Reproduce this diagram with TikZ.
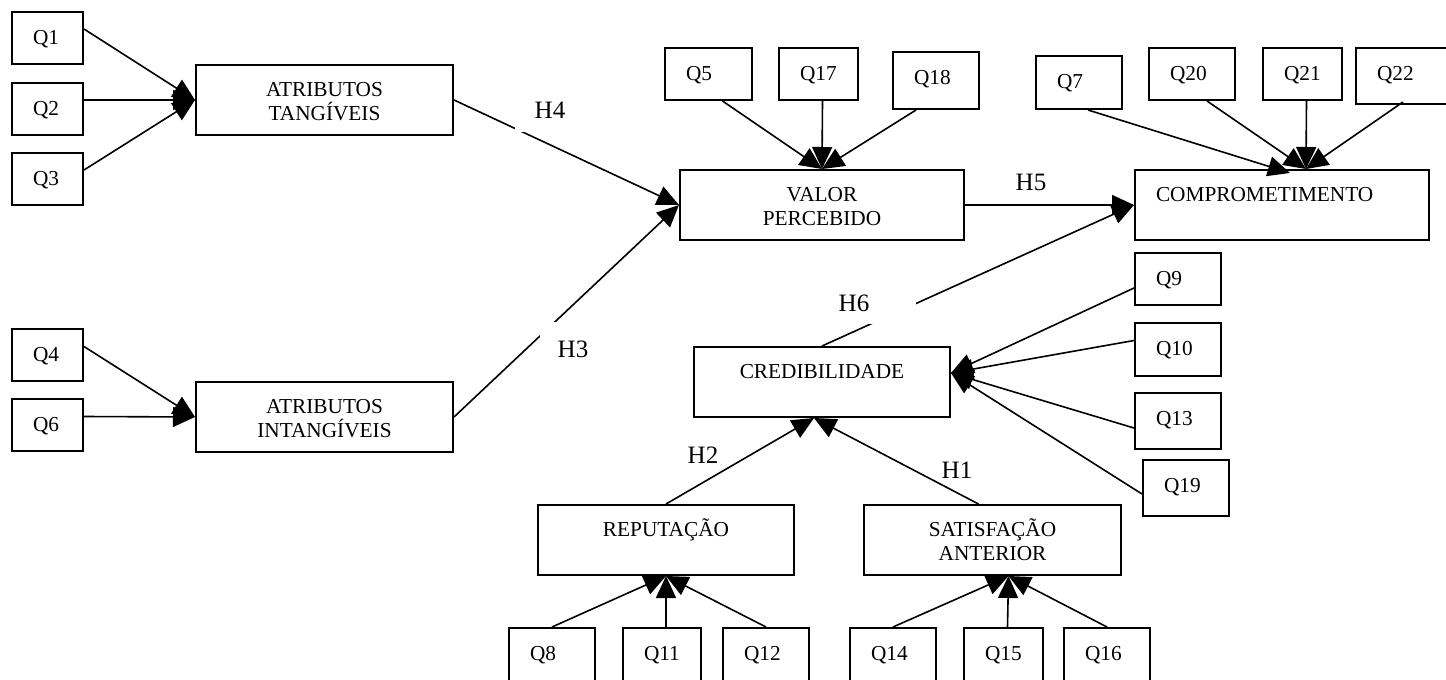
\documentclass[tikz,border=0pt]{standalone}
\usepackage{fontspec}
\setmainfont{Liberation Serif}
\usetikzlibrary{arrows.meta}

\begin{document}
\begin{tikzpicture}[
  x=0.5pt, y=-0.5pt,
  every node/.style={font=\fontsize{10.65}{12}\selectfont},
  qbox/.style={draw, line width=1pt, anchor=north west, align=left,
    inner xsep=10.5pt, inner ysep=5pt, text height=11pt, text depth=5pt, text width=#1},
  qbox/.default=22pt,
  bigbox/.style={draw, line width=1pt, anchor=north west, align=center,
    inner xsep=0pt, inner ysep=6pt, text height=9.5pt, text depth=13.5pt, text width=#1},
  hlabel/.style={fill=white, font=\fontsize{12.5}{14}\selectfont, inner sep=1pt},
  link/.style={line width=0.8pt, -{Triangle[length=11pt, width=10pt]}}
]
\useasboundingbox (0,0) rectangle (1446,680);

\node [qbox=14.5pt] (q1) at (11,11) {Q1};
\node [qbox=14.5pt] (q2) at (11,82) {Q2};
\node [qbox=14.5pt] (q3) at (11,152) {Q3};
\node [qbox=14.5pt] (q4) at (11,328) {Q4};
\node [qbox=14.5pt] (q6) at (11,398) {Q6};
\node [bigbox=128.5pt] (atang) at (195,64) {ATRIBUTOS\\TANGÍVEIS};
\node [bigbox=128.5pt] (aintang) at (195,381) {ATRIBUTOS\\INTANGÍVEIS};

\node [qbox=22.5pt] (q5) at (664,47) {Q5};
\node [qbox=18.5pt] (q17) at (778,47) {Q17};
\node [qbox, text depth=7.5pt] (q18) at (892,51) {Q18};
\node [bigbox=142pt] (valor) at (679,169) {VALOR\\PERCEBIDO};

\node [qbox, text depth=5.5pt] (q7) at (1035,55) {Q7};
\node [qbox] (q20) at (1148,47) {Q20};
\node [qbox=18.5pt] (q21) at (1262,47) {Q21};
\node [qbox=39pt, text depth=7pt] (q22) at (1355,47) {Q22};
\node [bigbox=126pt, align=left, inner xsep=10.5pt] (comp) at (1134,169) {COMPROMETIMENTO};

\node [bigbox=128pt] (cred) at (693,346) {CREDIBILIDADE};
\node [qbox] (q9) at (1134,252) {Q9};
\node [qbox, text depth=5.5pt] (q10) at (1134,322) {Q10};
\node [qbox, text depth=7pt] (q13) at (1134,392) {Q13};
\node [qbox, text depth=7pt] (q19) at (1142,459) {Q19};

\node [bigbox=128pt] (rep) at (537,504) {REPUTAÇÃO};
\node [bigbox=128.5pt] (sat) at (863,504) {SATISFAÇÃO\\ANTERIOR};
\node [qbox, text depth=9pt] (q8) at (508,627) {Q8};
\node [qbox=18pt, text depth=9pt] (q11) at (622,627) {Q11};
\node [qbox, text depth=9pt] (q12) at (722,627) {Q12};
\node [qbox, text depth=9pt] (q14) at (849,627) {Q14};
\node [qbox=18.5pt, text depth=9pt] (q15) at (963,627) {Q15};
\node [qbox, text depth=9pt] (q16) at (1063,627) {Q16};

\draw [link] ([yshift=4.5pt]q1.east) -- (atang.west);
\draw [link] ([yshift=4.5pt]q2.east) -- (atang.west);
\draw [link] ([yshift=4.5pt]q3.east) -- (atang.west);
\draw [link] ([yshift=4.25pt]q4.east) -- (aintang.west);
\draw [link] ([yshift=4.25pt]q6.east) -- (aintang.west);

\draw [link] (atang.east) -- (valor.west);
\draw [link] (aintang.east) -- (valor.west);
\draw [link] ([xshift=7pt]q5.south) -- (valor.north);
\draw [link] ([xshift=2pt]q17.south) -- (valor.north);
\draw [link] ([xshift=-10pt]q18.south) -- (valor.north);

\draw [link] (valor.east) -- (comp.west);
\draw [link] (cred.north) -- (comp.west);
\draw [link] ([xshift=4.5pt]q7.south) -- ([xshift=4pt, yshift=-2pt]comp.north);
\draw [link] ([xshift=7.5pt]q20.south) -- ([xshift=12pt]comp.north);
\draw [link] ([xshift=2pt]q21.south) -- ([xshift=12pt]comp.north);
\draw [link] ([xshift=24pt, yshift=1.5pt]q22.south west) -- ([xshift=12pt]comp.north);

\draw [link] ([yshift=-4.5pt]q9.west) -- ([yshift=4.5pt]cred.east);
\draw [link] ([yshift=4.5pt]q10.west) -- ([yshift=4.5pt]cred.east);
\draw [link] ([yshift=-3.5pt]q13.west) -- ([yshift=4.5pt]cred.east);
\draw [link] ([yshift=-3pt]q19.west) -- ([yshift=4.5pt]cred.east);

\draw [link] (rep.north) -- ([xshift=-4pt]cred.south);
\draw [link] ([xshift=-7pt]sat.north) -- ([xshift=-4pt]cred.south);

\draw [link] (q8.north) -- (rep.south);
\draw [link] ([xshift=2pt]q11.north) -- (rep.south);
\draw [link] (q12.north) -- (rep.south);
\draw [link] (q14.north) -- ([xshift=8pt]sat.south);
\draw [link] ([xshift=2pt]q15.north) -- ([xshift=8pt]sat.south);
\draw [link] (q16.north) -- ([xshift=8pt]sat.south);

\node [hlabel, minimum width=35pt, minimum height=22pt] (h4) at (550,110) {H4};
\node [hlabel, minimum width=33pt, minimum height=27pt] (h3) at (573,349) {H3};
\node [hlabel] (h5) at (1031,182) {H5};
\node [hlabel, minimum width=62pt, minimum height=21pt] (h6) at (854,303) {H6};
\node [hlabel] (h2) at (703,455) {H2};
\node [hlabel] (h1) at (957,470) {H1};

\end{tikzpicture}
\end{document}
